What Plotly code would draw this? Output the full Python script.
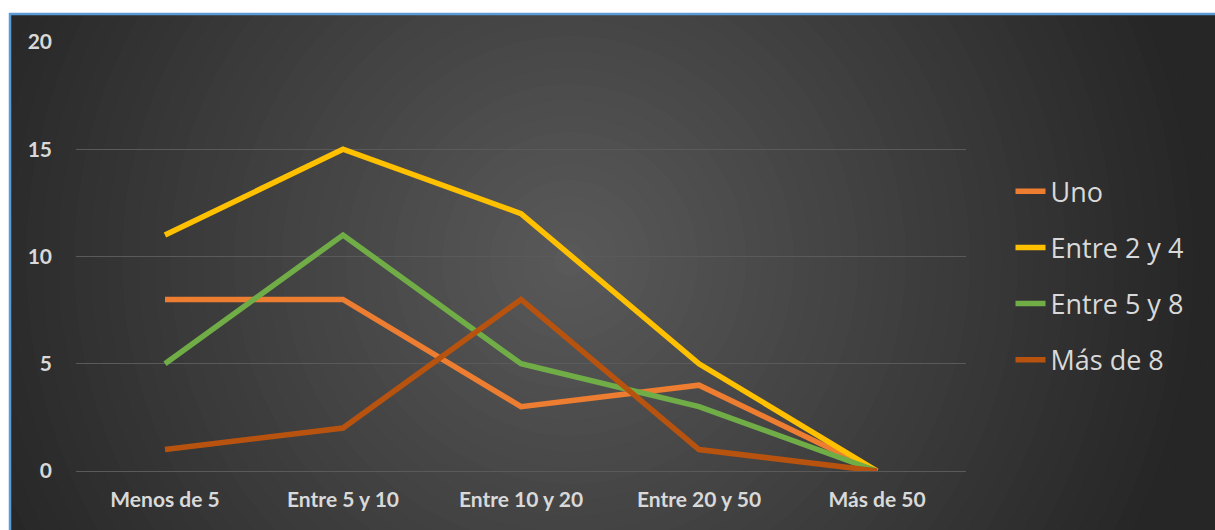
import plotly.graph_objects as go

categories = ["Menos de 5", "Entre 5 y 10", "Entre 10 y 20", "Entre 20 y 50", "Más de 50"]
uno = [8, 8, 3, 4, 0]
entre_2_4 = [11, 15, 12, 5, 0]
entre_5_8 = [5, 11, 5, 3, 0]
mas_de_8 = [1, 2, 8, 1, 0]

series = [
    ("Uno", uno, "#ED7D31"),
    ("Entre 2 y 4", entre_2_4, "#FFC000"),
    ("Entre 5 y 8", entre_5_8, "#70AD47"),
    ("Más de 8", mas_de_8, "#B8530F"),
]

W, H = 1215, 530
L, R, T, B = 76, 249, 42, 59
PW, PH = W - L - R, H - T - B


def px_to_paper_x(px):
    return (px - L) / PW


def px_to_paper_y(py):
    return (H - B - py) / PH


fig = go.Figure()
for name, vals, color in series:
    fig.add_trace(go.Scatter(
        x=categories, y=vals, name=name, mode="lines",
        line=dict(color=color, width=5.5),
        legendgroup=name,
    ))

shapes = []
# radial gradient background
cx, cy = 570, 260
rad = 640
steps = 40
c_edge, c_center = 38, 90
for i in range(steps):
    f = 1 - i / steps
    r = rad * f
    v = int(round(c_center - (c_center - c_edge) * f))
    shapes.append(dict(
        type="circle", xref="paper", yref="paper", layer="below",
        x0=px_to_paper_x(cx - r), x1=px_to_paper_x(cx + r),
        y0=px_to_paper_y(cy + r), y1=px_to_paper_y(cy - r),
        fillcolor=f"rgb({v},{v},{v})", line=dict(width=0),
    ))
# white top / left margin and blue border
shapes.append(dict(type="rect", xref="paper", yref="paper", layer="above",
                   x0=px_to_paper_x(-5), x1=px_to_paper_x(W + 5),
                   y0=px_to_paper_y(13), y1=px_to_paper_y(-5),
                   fillcolor="white", line=dict(width=0)))
shapes.append(dict(type="rect", xref="paper", yref="paper", layer="above",
                   x0=px_to_paper_x(-5), x1=px_to_paper_x(9),
                   y0=px_to_paper_y(H + 5), y1=px_to_paper_y(-5),
                   fillcolor="white", line=dict(width=0)))
shapes.append(dict(type="line", xref="paper", yref="paper", layer="above",
                   x0=px_to_paper_x(9), x1=px_to_paper_x(W + 5),
                   y0=px_to_paper_y(14), y1=px_to_paper_y(14),
                   line=dict(color="#5B9BD5", width=2.5)))
shapes.append(dict(type="line", xref="paper", yref="paper", layer="above",
                   x0=px_to_paper_x(10), x1=px_to_paper_x(10),
                   y0=px_to_paper_y(13), y1=px_to_paper_y(H + 5),
                   line=dict(color="#5B9BD5", width=2.5)))

fig.update_layout(
    width=W, height=H,
    margin=dict(l=L, r=R, t=T, b=B, autoexpand=False),
    paper_bgcolor="rgb(38,38,38)",
    plot_bgcolor="rgba(0,0,0,0)",
    shapes=shapes,
    showlegend=True,
    legend=dict(
        x=1.05, y=0.455, xanchor="left", yanchor="middle",
        font=dict(family="Open Sans", size=27, color="#D9D9D9"),
        bgcolor="rgba(0,0,0,0)", tracegroupgap=18,
        itemwidth=30,
    ),
    xaxis=dict(
        range=[-0.5, 4.5],
        showgrid=False, zeroline=False, showline=False,
        tickfont=dict(family="Lato", size=21, color="#D9D9D9", weight="bold"),
        ticks="", ticklabelstandoff=14,
    ),
    yaxis=dict(
        range=[0, 20], dtick=5, showgrid=True, gridcolor="#5A5A5A", gridwidth=1,
        zeroline=True, zerolinecolor="#5A5A5A", zerolinewidth=1, showline=False,
        tickfont=dict(family="Lato", size=21, color="#D9D9D9", weight="bold"),
        ticks="", ticklabelstandoff=23,
    ),
)

fig.write_html(
    "out.html",
    config={"displayModeBar": False},
    post_script="document.body.style.margin='0';document.body.style.padding='0';",
)
